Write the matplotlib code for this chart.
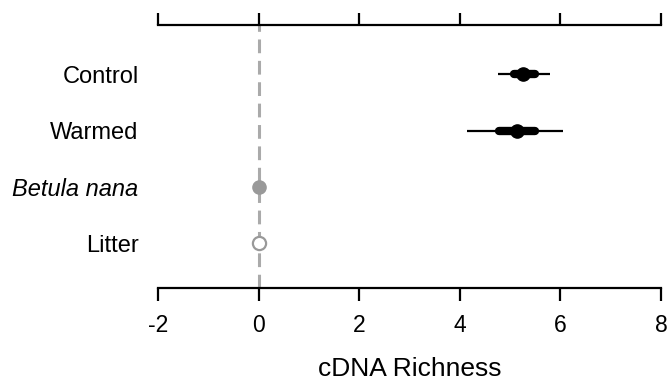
import numpy as np
import matplotlib.pyplot as plt

plt.rcParams['font.family'] = ['Liberation Sans', 'DejaVu Sans']

# dados
grupos = ['Control', 'Warmed', 'Betula nana', 'Litter']
medias = [5.26, 5.13, 0.0, 0.0]
ic_inf_95 = [4.75, 4.15, 0.0, 0.0]
ic_sup_95 = [5.79, 6.06, 0.0, 0.0]
ic_inf_50 = [5.07, 4.77, 0.0, 0.0]
ic_sup_50 = [5.49, 5.49, 0.0, 0.0]
xticks = [-2, 0, 2, 4, 6, 8]

fig = plt.figure(figsize=(6.67, 3.83), dpi=100)
ax = fig.add_axes([158 / 667, 1 - 288 / 383, (661 - 158) / 667, (288 - 25) / 383])

ypos = np.arange(len(grupos))[::-1] + 1

ax.axvline(0, color='#aaaaaa', lw=2.2, ls=(0, (4.5, 2.5)), zorder=1)

for i in range(len(grupos)):
    y = ypos[i]
    if i < 2:
        ax.plot([ic_inf_95[i], ic_sup_95[i]], [y, y], color='black', lw=1.6, zorder=2, solid_capstyle='butt')
        ax.plot([ic_inf_50[i], ic_sup_50[i]], [y, y], color='black', lw=6, zorder=3, solid_capstyle='round')
        ax.plot(medias[i], y, 'o', color='black', ms=9.5, zorder=4)
    elif i == 2:
        ax.plot(medias[i], y, 'o', color='#999999', ms=9.5, zorder=4)
    else:
        ax.plot(medias[i], y, 'o', mfc='white', mec='#999999', mew=1.6, ms=9.5, zorder=4)

ax.set_xlim(-2, 8)
ax.set_ylim(0.2, 4.88)

ax.set_yticks(ypos)
ax.set_yticklabels(grupos, fontsize=17)
for lbl in ax.get_yticklabels():
    if lbl.get_text() == 'Betula nana':
        lbl.set_style('italic')
ax.tick_params(axis='y', length=0, pad=14)

ax.set_xticks(xticks)
ax.set_xticklabels([str(t) for t in xticks], fontsize=16.5)
ax.tick_params(axis='x', direction='out', length=9, width=1.6, top=True, labeltop=False, pad=10)

for s in ['left', 'right']:
    ax.spines[s].set_visible(False)
for s in ['top', 'bottom']:
    ax.spines[s].set_linewidth(1.6)

ax.set_xlabel('cDNA Richness', fontsize=19, labelpad=14)

plt.savefig('out.png', dpi=100)
